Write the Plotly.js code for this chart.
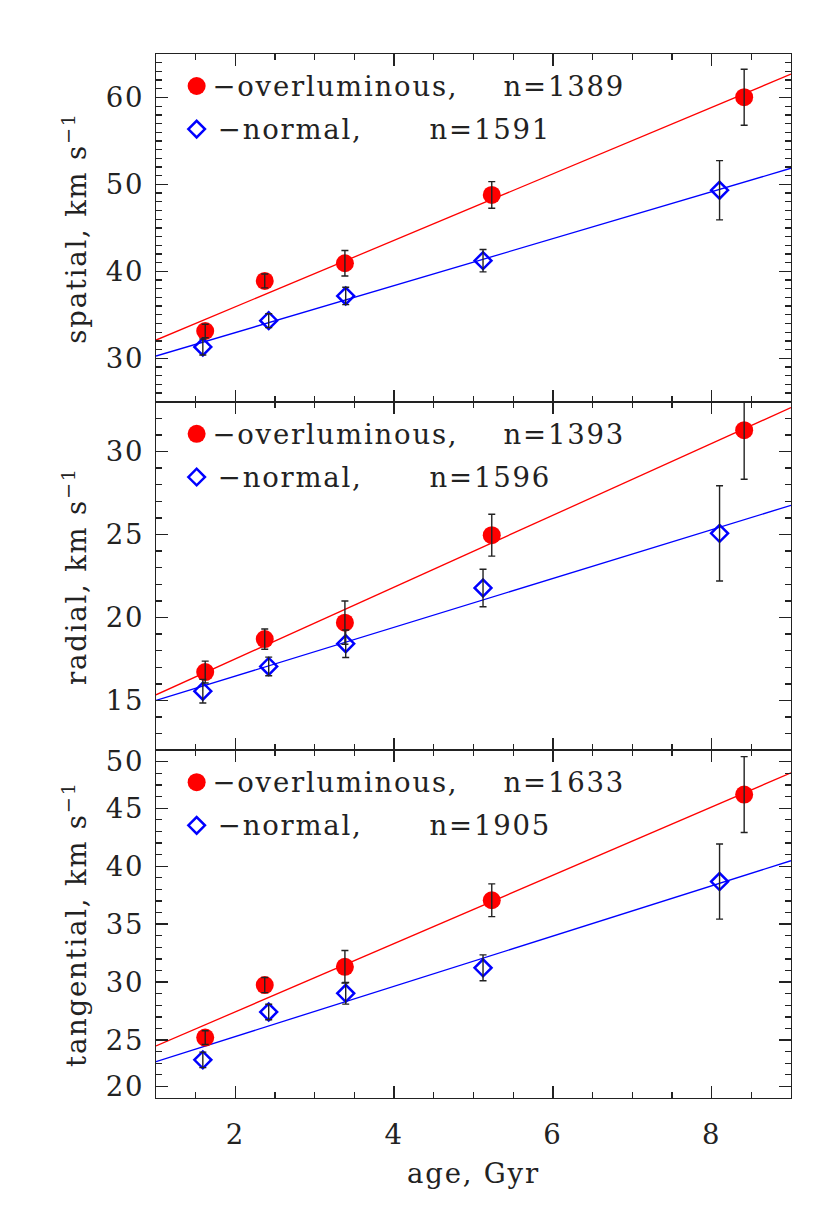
<!DOCTYPE html>
<html>
<head>
<meta charset="utf-8">
<script src="https://cdn.plot.ly/plotly-3.0.1.min.js"></script>
<style>
  html, body { margin: 0; padding: 0; background: #fff; }
  #chart text { letter-spacing: 1.8px; }
</style>
</head>
<body>
<div id="chart" style="width:830px;height:1214px;"></div>
<script>
// ---- data ----
const ageOver = [1.62, 2.37, 3.38, 5.23, 8.41];
const ageNorm = [1.59, 2.42, 3.39, 5.12, 8.10];

const spatialOver    = [33.14, 38.9, 40.93, 48.79, 60.03];
const spatialOverErr = [0.78, 0.8, 1.46, 1.53, 3.22];
const spatialNorm    = [31.3, 34.33, 37.17, 41.23, 49.33];
const spatialNormErr = [0.92, 0.8, 1.0, 1.29, 3.41];

const radialOver    = [16.71, 18.70, 19.69, 24.96, 31.29];
const radialOverErr = [0.66, 0.61, 1.3, 1.26, 2.96];
const radialNorm    = [15.56, 17.05, 18.42, 21.78, 25.07];
const radialNormErr = [0.71, 0.56, 0.83, 1.13, 2.87];

const tangOver    = [25.21, 29.74, 31.32, 37.06, 46.18];
const tangOverErr = [0.59, 0.65, 1.4, 1.41, 3.27];
const tangNorm    = [23.29, 27.42, 29.03, 31.23, 38.67];
const tangNormErr = [0.67, 0.67, 0.93, 1.12, 3.24];

// linear fits (end points)
const fitAge = [1, 9];
const spatialOverFit = [32.1, 62.68];
const spatialNormFit = [30.26, 51.86];
const radialOverFit  = [15.34, 32.65];
const radialNormFit  = [15.0, 26.76];
const tangOverFit    = [24.49, 48.05];
const tangNormFit    = [23.14, 40.47];

const nOver = [1389, 1393, 1633];
const nNorm = [1591, 1596, 1905];
const panelTitles = ['spatial, km s<sup>\u22121</sup>', 'radial, km s<sup>\u22121</sup>', 'tangential, km s<sup>\u22121</sup>'];
const yRanges = [[25, 65], [12, 33], [20, 50]];
const yTickVals = [[30, 40, 50, 60], [15, 20, 25, 30], [21, 25, 30, 35, 40, 45, 49]];
const yTickText = [['30', '40', '50', '60'], ['15', '20', '25', '30'], ['20', '25', '30', '35', '40', '45', '50']];
const xTickVals = [2, 4, 6, 8];

// ---- styling ----
const FONT = 'DejaVu Serif, Liberation Serif, serif';
const FS = 27.5;
const RED = '#ff0000', BLUE = '#0000ff', INK = '#222222';

const panels = [
  {ov: spatialOver, ove: spatialOverErr, no: spatialNorm, noe: spatialNormErr, of: spatialOverFit, nf: spatialNormFit},
  {ov: radialOver, ove: radialOverErr, no: radialNorm, noe: radialNormErr, of: radialOverFit, nf: radialNormFit},
  {ov: tangOver, ove: tangOverErr, no: tangNorm, noe: tangNormErr, of: tangOverFit, nf: tangNormFit}
];

const traces = [];
panels.forEach((p, i) => {
  const xa = 'x' + (i === 0 ? '' : i + 1);
  const ya = 'y' + (i === 0 ? '' : i + 1);
  traces.push({x: fitAge, y: p.of, xaxis: xa, yaxis: ya, mode: 'lines', line: {color: RED, width: 1.3}, hoverinfo: 'skip'});
  traces.push({x: fitAge, y: p.nf, xaxis: xa, yaxis: ya, mode: 'lines', line: {color: BLUE, width: 1.3}, hoverinfo: 'skip'});
  traces.push({x: ageOver, y: p.ov, xaxis: xa, yaxis: ya, mode: 'markers',
    marker: {symbol: 'circle', size: 18, color: RED, line: {width: 0}}});
  traces.push({x: ageNorm, y: p.no, xaxis: xa, yaxis: ya, mode: 'markers',
    marker: {symbol: 'diamond-open', size: 13, color: BLUE, line: {width: 2.5, color: BLUE}}});
  traces.push({x: ageOver, y: p.ov, xaxis: xa, yaxis: ya, mode: 'markers',
    marker: {size: 1, color: 'rgba(0,0,0,0)'},
    error_y: {type: 'data', array: p.ove, visible: true, color: INK, thickness: 1.4, width: 3.5}});
  traces.push({x: ageNorm, y: p.no, xaxis: xa, yaxis: ya, mode: 'markers',
    marker: {size: 1, color: 'rgba(0,0,0,0)'},
    error_y: {type: 'data', array: p.noe, visible: true, color: INK, thickness: 1.4, width: 3.5}});
});

const domains = [[0.6669, 1], [0.3331, 0.6669], [0, 0.3331]];

const layout = {
  width: 830, height: 1214,
  margin: {l: 156, r: 39, t: 54, b: 116},
  paper_bgcolor: '#fff', plot_bgcolor: '#fff',
  showlegend: false,
  font: {family: FONT, size: FS, color: INK},
  annotations: [], shapes: []
};

function xAxis(i) {
  const ax = {
    range: [1, 9], anchor: 'y' + (i === 0 ? '' : i + 1),
    showgrid: false, zeroline: false, showline: true, linecolor: INK, linewidth: 1.2,
    mirror: 'ticks', ticks: 'inside', ticklen: 12, tickwidth: 1.3, tickcolor: INK,
    tickmode: 'array', tickvals: xTickVals,
    minor: {ticks: 'inside', ticklen: 6, tickwidth: 1.3, tickcolor: INK, tickmode: 'linear', tick0: 1, dtick: 0.5},
    showticklabels: i === 2,
    tickfont: {family: FONT, size: FS, color: INK},
    ticklabelstandoff: 12
  };
  if (i !== 0) ax.matches = 'x';
  if (i === 2) ax.title = {text: 'age, Gyr', font: {family: FONT, size: FS, color: INK}, standoff: 14};
  return ax;
}
function yAxis(i) {
  return {
    domain: domains[i], range: yRanges[i], anchor: 'x' + (i === 0 ? '' : i + 1),
    showgrid: false, zeroline: false, showline: true, linecolor: INK, linewidth: 1.2,
    mirror: 'ticks', ticks: 'inside', ticklen: 12, tickwidth: 1.3, tickcolor: INK,
    tickmode: 'array', tickvals: yTickVals[i], ticktext: yTickText[i],
    minor: {ticks: 'inside', ticklen: 6, tickwidth: 1.3, tickcolor: INK, tickmode: 'linear', tick0: 0, dtick: 1},
    tickfont: {family: FONT, size: FS, color: INK},
    ticklabelstandoff: 5,
    title: {text: panelTitles[i], font: {family: FONT, size: FS, color: INK}, standoff: 14}
  };
}
for (let i = 0; i < 3; i++) {
  const sfx = i === 0 ? '' : String(i + 1);
  layout['xaxis' + sfx] = xAxis(i);
  layout['yaxis' + sfx] = yAxis(i);

  const xd = 'x' + sfx + ' domain', yd = 'y' + sfx + ' domain';
  const yRed = 0.908, yBlue = 0.784, xSym = 0.064;
  layout.shapes.push({type: 'circle', xref: xd, yref: yd, xsizemode: 'pixel', ysizemode: 'pixel',
    xanchor: xSym, yanchor: yRed, x0: -9, x1: 9, y0: -9, y1: 9,
    fillcolor: RED, line: {width: 0}});
  layout.shapes.push({type: 'path', xref: xd, yref: yd, xsizemode: 'pixel', ysizemode: 'pixel',
    xanchor: xSym, yanchor: yBlue, path: 'M -8.3 0 L 0 8.3 L 8.3 0 L 0 -8.3 Z',
    fillcolor: 'rgba(0,0,0,0)', line: {color: BLUE, width: 2.5}});
  const ann = (x, y, t) => ({xref: xd, yref: yd, x: x, y: y, xanchor: 'left', yanchor: 'middle',
    text: t, showarrow: false, font: {family: FONT, size: FS, color: INK}});
  layout.annotations.push(ann(0.106, yRed, '\u2212overluminous,'));
  layout.annotations.push(ann(0.552, yRed, 'n=' + nOver[i]));
  layout.annotations.push(ann(0.106, yBlue, '\u2212normal,'));
  layout.annotations.push(ann(0.436, yBlue, 'n=' + nNorm[i]));
}

Plotly.newPlot('chart', traces, layout, {displayModeBar: false, staticPlot: true});
</script>
</body>
</html>
